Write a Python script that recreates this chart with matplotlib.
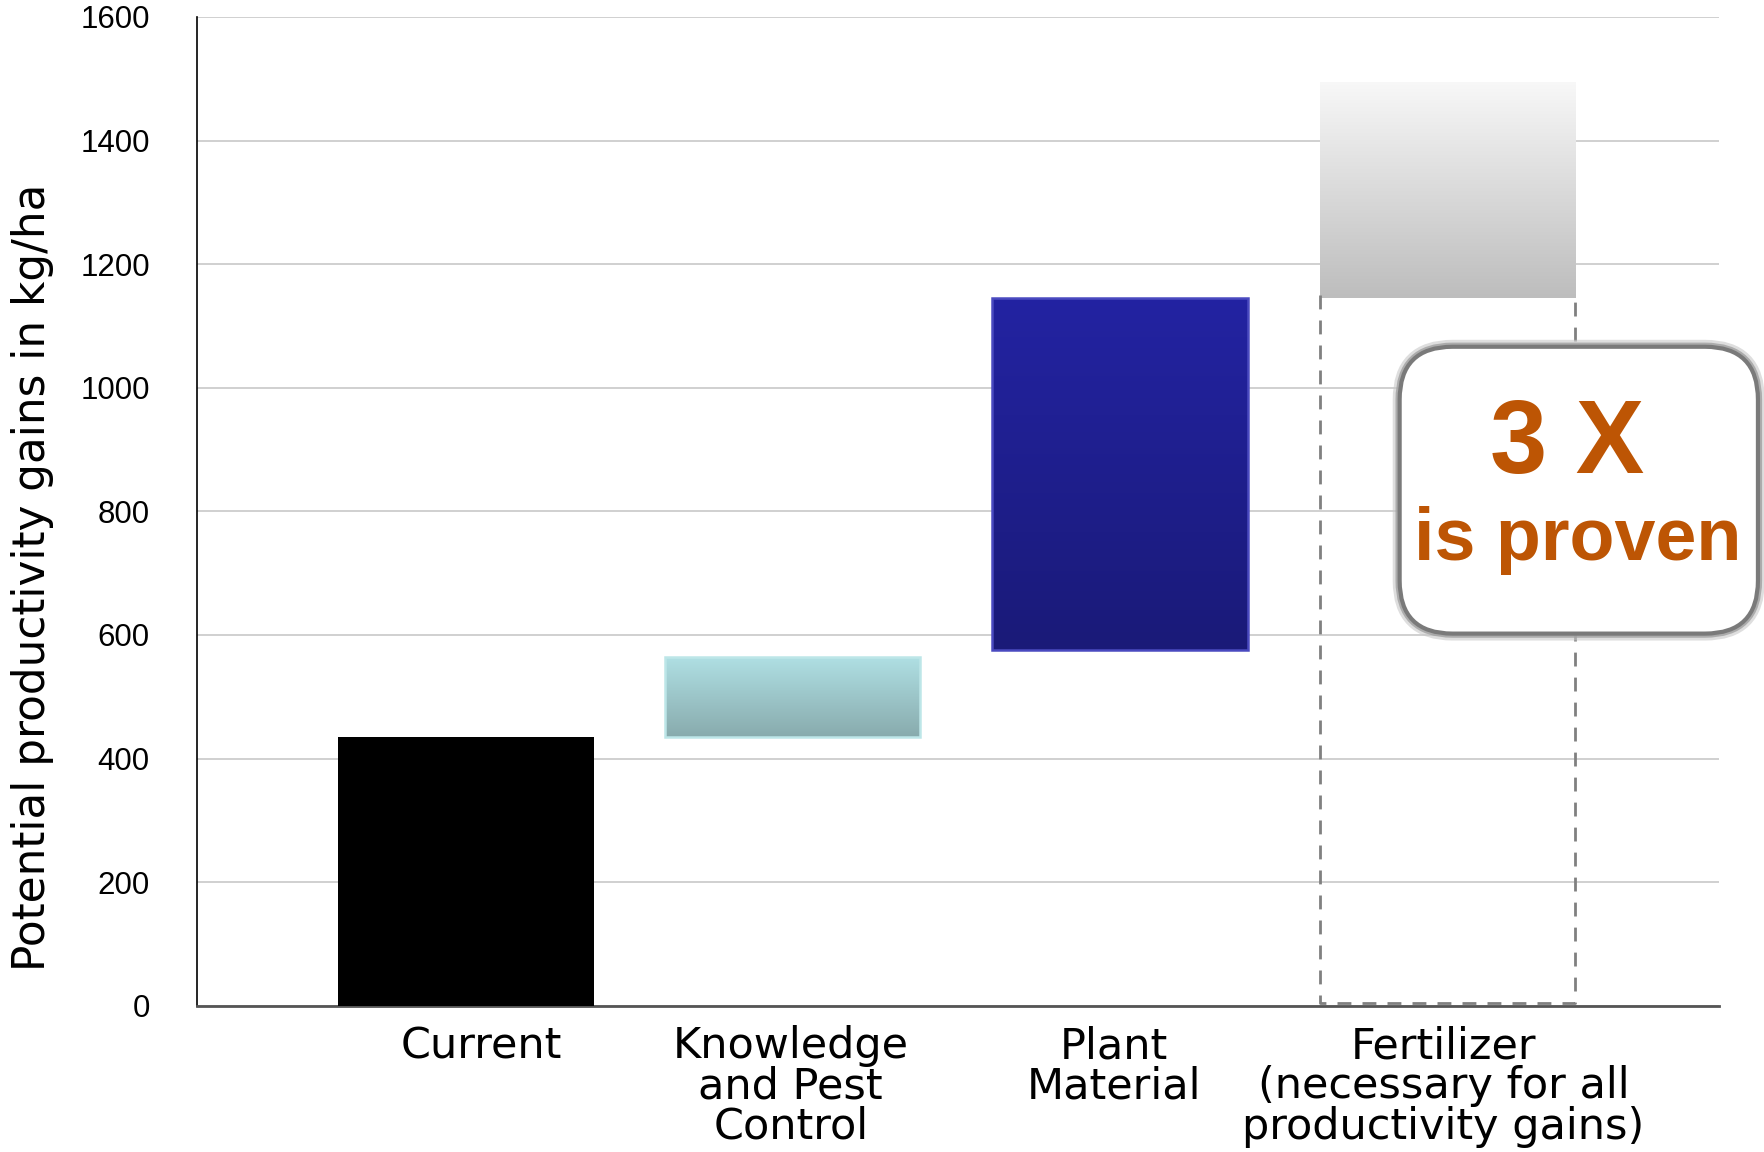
import numpy as np
import matplotlib
matplotlib.use("Agg")
import matplotlib.pyplot as plt
import matplotlib.transforms as mtransforms
from matplotlib.patches import FancyBboxPatch, Rectangle
from matplotlib.colors import LinearSegmentedColormap

categories = ["Current", "Knowledge\nand Pest\nControl", "Plant\nMaterial",
              "Fertilizer\n(necessary for all\nproductivity gains)"]
bar_bottoms = [0, 435, 575, 1145]
bar_tops = [435, 565, 1145, 1495]
dashed_bottom = 0
dashed_top = 1145
yticks = [0, 200, 400, 600, 800, 1000, 1200, 1400, 1600]
ylabel = "Potential productivity gains in kg/ha"

# gradients: (top colour, bottom colour, edge colour)
styles = [
    ("#000000", "#000000", "none"),
    ("#B0E0E4", "#88ABAD", "#BDE6E8"),
    ("#2323A2", "#1A1A78", "#4A4AC0"),
    ("#F8F8F8", "#BDBDBD", "none"),
]

fig = plt.figure(figsize=(17.65, 11.52), dpi=100)
ax = fig.add_axes([0.1116, 0.127, 0.974 - 0.1116, 0.9853 - 0.127])
x = np.arange(len(categories))
width = 0.78
heights = [t - b for t, b in zip(bar_tops, bar_bottoms)]
bars = ax.bar(x, heights, bottom=bar_bottoms, width=width, zorder=3,
              color="none", edgecolor="none")
for b, (ctop, cbot, ec) in zip(bars, styles):
    x0, y0, w, h = b.get_x(), b.get_y(), b.get_width(), b.get_height()
    cmap = LinearSegmentedColormap.from_list("g", [cbot, ctop])
    grad = np.linspace(0, 1, 256).reshape(-1, 1)
    im = ax.imshow(grad, cmap=cmap, origin="lower", aspect="auto",
                   extent=[x0, x0 + w, y0, y0 + h], zorder=3)
    im.set_clip_path(b)
    if ec != "none":
        ax.add_patch(Rectangle((x0, y0), w, h, fill=False, edgecolor=ec,
                               linewidth=1.8, zorder=4))

# dashed outline for fertilizer (top edge hidden behind the bar)
fb = bars[3]
fx0, fx1 = fb.get_x(), fb.get_x() + fb.get_width()
ax.plot([fx0, fx0, fx1, fx1], [dashed_top, dashed_bottom, dashed_bottom, dashed_top],
        color="#808080", linewidth=2, linestyle=(0, (5, 4)), zorder=3.5,
        clip_on=False, transform=ax.transData + mtransforms.ScaledTranslation(0, 3 / 100, fig.dpi_scale_trans))

ax.set_xlim(-0.82, 3.83)
ax.set_ylim(0, 1600)
ax.set_yticks(yticks)
ax.set_yticklabels([str(v) for v in yticks], fontsize=22.5, family="Liberation Sans")
ax.set_xticks(x)
ax.set_xticklabels(categories, fontsize=31, family="DejaVu Sans", linespacing=0.95)
ax.tick_params(axis="y", length=0, pad=34)
ax.tick_params(axis="x", length=0, pad=14)
label_dx = [16, -2, -6, -4]
for lab, dx in zip(ax.get_xticklabels(), label_dx):
    lab.set_transform(lab.get_transform() + mtransforms.ScaledTranslation(dx / 100, 0, fig.dpi_scale_trans))
ax.yaxis.grid(True, color="#C8C8C8", linewidth=1.2, zorder=0)
ax.set_axisbelow(True)
for s in ["top", "right"]:
    ax.spines[s].set_visible(False)
ax.spines["left"].set_color("#000000")
ax.spines["left"].set_linewidth(1.2)
ax.spines["bottom"].set_color("#555555")
ax.spines["bottom"].set_linewidth(2)

fig.text(0.0185, 0.4985, ylabel, rotation=90, fontsize=31.5, family="DejaVu Sans",
         ha="center", va="center")

# annotation box
bx0, by0, bw, bh = 0.793, 0.450, 0.203, 0.249
for lw, col, a in [(10, "#C8C8C8", 0.6), (6, "#A0A0A0", 0.8), (3, "#7A7A7A", 1.0)]:
    fig.patches.append(FancyBboxPatch((bx0, by0), bw, bh,
                                      boxstyle="round,pad=0,rounding_size=0.03",
                                      transform=fig.transFigure, facecolor="white",
                                      edgecolor=col, linewidth=lw, alpha=a,
                                      mutation_aspect=1765 / 1152, zorder=10))
orange = "#BD5504"
fig.text(0.888, 0.612, "3 X", fontsize=74, fontweight="bold", color=orange,
         family="Liberation Sans", ha="center", va="center", zorder=11)
fig.text(0.894, 0.531, "is proven", fontsize=53, fontweight="bold", color=orange,
         family="Liberation Sans", ha="center", va="center", zorder=11)

fig.savefig("out.png", dpi=100, facecolor="white")
